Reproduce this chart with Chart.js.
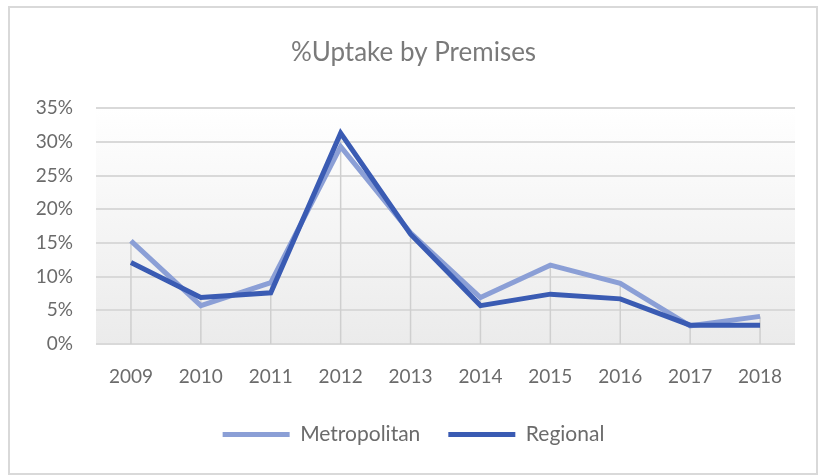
<!DOCTYPE html>
<html>
<head>
<meta charset="utf-8">
<script src="https://cdn.jsdelivr.net/npm/chart.js@4.4.1/dist/chart.umd.min.js"></script>
<style>
  html, body { margin: 0; padding: 0; background: #fff; }
  #frame {
    position: absolute; left: 8px; top: 6px;
    width: 806px; height: 465px;
    border: 2px solid #d9d9d9;
  }
  #chart { display: block; }
</style>
</head>
<body>
<div id="frame"><canvas id="chart" width="806" height="465"></canvas></div>
<script>
// %Uptake by Premises, 2009-2018
const years = ['2009', '2010', '2011', '2012', '2013', '2014', '2015', '2016', '2017', '2018'];
const metropolitan = [15.3, 5.7, 9.1, 29.3, 16.5, 6.9, 11.7, 9.0, 2.7, 4.1];
const regional = [12.1, 6.9, 7.6, 31.3, 16.3, 5.7, 7.4, 6.7, 2.8, 2.8];
const yTicks = [0, 5, 10, 15, 20, 25, 30, 35];

const metroColor = '#8b9fd6';
const regionalColor = '#3a5bb3';
const textColor = '#6b6b6b';
const font = 'Lato';

// plot area fill: white at top fading to light grey at the axis
const plotBackground = {
  id: 'plotBackground',
  beforeDraw(chart) {
    const { ctx, chartArea: a } = chart;
    const g = ctx.createLinearGradient(0, a.top, 0, a.bottom);
    g.addColorStop(0, '#ffffff');
    g.addColorStop(1, '#ebebeb');
    ctx.save();
    ctx.fillStyle = g;
    ctx.fillRect(a.left, a.top, a.right - a.left, a.bottom - a.top);
    ctx.restore();
  }
};

// drop lines from the highest point of each year down to the axis
const dropLines = {
  id: 'dropLines',
  beforeDatasetsDraw(chart) {
    const { ctx, scales: { x, y } } = chart;
    ctx.save();
    ctx.strokeStyle = '#cfcfcf';
    ctx.lineWidth = 1.5;
    years.forEach((yr, i) => {
      const top = Math.max(metropolitan[i], regional[i]);
      const px = x.getPixelForValue(i);
      ctx.beginPath();
      ctx.moveTo(px, y.getPixelForValue(top));
      ctx.lineTo(px, y.getPixelForValue(0));
      ctx.stroke();
    });
    ctx.restore();
  }
};

new Chart(document.getElementById('chart'), {
  type: 'line',
  data: {
    labels: years,
    datasets: [{
      label: 'Metropolitan',
      data: metropolitan,
      borderColor: metroColor,
      backgroundColor: metroColor,
      borderWidth: 5,
      pointRadius: 0,
      tension: 0,
      order: 1
    }, {
      label: 'Regional',
      data: regional,
      borderColor: regionalColor,
      backgroundColor: regionalColor,
      borderWidth: 5,
      pointRadius: 0,
      tension: 0,
      order: 0
    }]
  },
  options: {
    responsive: false,
    animation: false,
    layout: { padding: { left: 22, right: 21, top: 0, bottom: 18 } },
    plugins: {
      title: {
        display: true,
        text: '%Uptake by Premises',
        color: '#7a7a7a',
        font: { family: font, size: 26, weight: 'normal' },
        padding: { top: 29, bottom: 40 }
      },
      legend: {
        position: 'bottom',
        labels: {
          color: textColor,
          font: { family: font, size: 21 },
          boxWidth: 67,
          boxHeight: 5,
          padding: 28,
          sort: (a, b) => a.datasetIndex - b.datasetIndex,
          generateLabels(chart) {
            return Chart.defaults.plugins.legend.labels.generateLabels(chart)
              .map(l => ({ ...l, lineWidth: 0 }));
          }
        }
      },
      tooltip: { enabled: false }
    },
    scales: {
      x: {
        offset: true,
        grid: { display: false },
        border: { display: false },
        ticks: { color: textColor, font: { family: font, size: 19 }, padding: 13, maxRotation: 0 },
        afterFit(scale) { scale.height = 52; }
      },
      y: {
        min: 0,
        max: 35,
        afterBuildTicks(scale) { scale.ticks = yTicks.map(v => ({ value: v })); },
        grid: { color: '#d9d9d9', lineWidth: 2, drawTicks: false },
        border: { display: false },
        ticks: {
          color: textColor,
          font: { family: font, size: 19 },
          padding: 23,
          callback: v => v + '%'
        },
        afterFit(scale) { scale.width = 64; }
      }
    }
  },
  plugins: [plotBackground, dropLines]
});
</script>
</body>
</html>
